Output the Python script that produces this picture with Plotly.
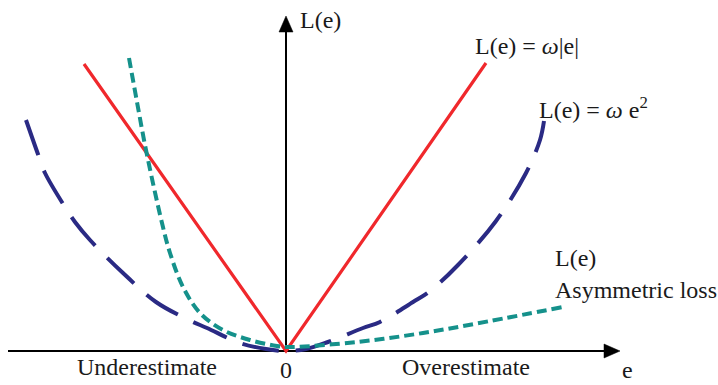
import plotly.graph_objects as go

# ---- data (units: 1 = 100 px of the original sketch) ----
abs_e = [-2.02, 0.0, 2.00]
abs_L = [2.87, 0.0, 2.88]

sq_e = [-2.60, -2.47, -2.41, -2.21, -2.11, -1.96, -1.63, -1.30, -0.97, -0.79, -0.46, -0.20, 0.0,
        0.20, 0.42, 0.77, 0.94, 1.27, 1.44, 1.72, 2.10, 2.40, 2.54, 2.58]
sq_L = [2.31, 1.94, 1.78, 1.44, 1.29, 1.11, 0.78, 0.49, 0.31, 0.23, 0.08, 0.02, 0.0,
        0.02, 0.09, 0.23, 0.29, 0.49, 0.60, 0.86, 1.30, 1.78, 2.11, 2.30]

asym_e = [-1.57, -1.49, -1.40, -1.24, -1.16, -1.03, -0.86, -0.63, -0.36, -0.09, 0.04, 0.71, 1.37, 2.04, 2.77]
asym_L = [2.93, 2.49, 2.01, 1.28, 0.98, 0.64, 0.38, 0.21, 0.11, 0.05, 0.04, 0.09, 0.18, 0.30, 0.44]

# axis geometry
X_MIN, X_TIP = -2.78, 3.34
Y_TIP = 3.35
HEAD_LEN, HEAD_HALF = 0.16, 0.07

FONT = "Liberation Serif"
RED = "#f0282c"
NAVY = "#2a2a84"
TEAL = "#15918b"

fig = go.Figure()
fig.add_trace(go.Scatter(x=abs_e, y=abs_L, mode="lines",
                         line=dict(color=RED, width=3.2), hoverinfo="skip"))
fig.add_trace(go.Scatter(x=sq_e, y=sq_L, mode="lines",
                         line=dict(color=NAVY, width=4, dash="37px,17px", shape="spline"),
                         hoverinfo="skip"))
fig.add_trace(go.Scatter(x=asym_e, y=asym_L, mode="lines",
                         line=dict(color=TEAL, width=4, dash="10px,5px", shape="spline"),
                         hoverinfo="skip"))

# axes with arrowheads
shapes = [
    dict(type="line", x0=X_MIN, y0=0, x1=X_TIP - HEAD_LEN, y1=0,
         line=dict(color="black", width=2), layer="below"),
    dict(type="line", x0=0, y0=0, x1=0, y1=Y_TIP - HEAD_LEN,
         line=dict(color="black", width=2), layer="below"),
    dict(type="path",
         path=f"M {X_TIP - HEAD_LEN} {-HEAD_HALF} L {X_TIP} 0 L {X_TIP - HEAD_LEN} {HEAD_HALF} Z",
         fillcolor="black", line=dict(color="black", width=0.5)),
    dict(type="path",
         path=f"M {-HEAD_HALF} {Y_TIP - HEAD_LEN} L 0 {Y_TIP} L {HEAD_HALF} {Y_TIP - HEAD_LEN} Z",
         fillcolor="black", line=dict(color="black", width=0.5)),
]

txt = dict(family=FONT, size=24, color="#1a1a1a")
labels = [
    ("L(e)", 0.12, 3.31, "left"),
    ("L(e) = <i>ω</i>|e|", 1.87, 3.05, "left"),
    ("L(e) = <i>ω</i> e<sup>2</sup>", 2.51, 2.43, "left"),
    ("L(e)", 2.67, 0.93, "left"),
    ("Asymmetric loss", 2.67, 0.61, "left"),
    ("Underestimate", -1.39, -0.16, "center"),
    ("0", 0.0, -0.19, "center"),
    ("Overestimate", 1.80, -0.16, "center"),
    ("e", 3.41, -0.19, "center"),
]
annotations = [dict(text=t, x=x, y=y, xref="x", yref="y", xanchor=a, yanchor="middle",
                    showarrow=False, font=txt) for t, x, y, a in labels]

fig.update_layout(
    width=718, height=385,
    margin=dict(l=0, r=0, t=0, b=0),
    paper_bgcolor="white", plot_bgcolor="white",
    showlegend=False,
    xaxis=dict(range=[-2.86, 4.32], visible=False, fixedrange=True),
    yaxis=dict(range=[-0.34, 3.51], visible=False, fixedrange=True),
    shapes=shapes, annotations=annotations,
)

fig.write_html("out.html", config=dict(displayModeBar=False),
               post_script="document.body.style.margin='0';document.body.style.overflow='hidden';")
